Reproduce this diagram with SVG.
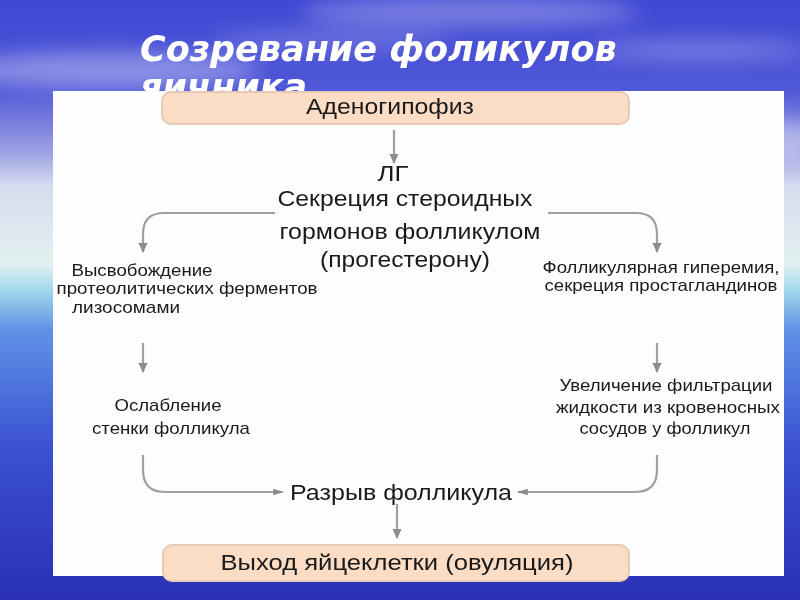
<svg xmlns="http://www.w3.org/2000/svg" width="800" height="600" viewBox="0 0 800 600">
  <defs>
    <linearGradient id="sky" x1="0" y1="0" x2="0" y2="1">
      <stop offset="0" stop-color="#3f47d4"/>
      <stop offset="0.15" stop-color="#5058d8"/>
      <stop offset="0.25" stop-color="#9a9ee2"/>
      <stop offset="0.31" stop-color="#d6dcef"/>
      <stop offset="0.44" stop-color="#e2f0f0"/>
      <stop offset="0.48" stop-color="#a6dcec"/>
      <stop offset="0.55" stop-color="#5f92e6"/>
      <stop offset="0.75" stop-color="#3a50d2"/>
      <stop offset="1" stop-color="#2a30b4"/>
    </linearGradient>
    <filter id="blur" x="-50%" y="-50%" width="200%" height="200%">
      <feGaussianBlur stdDeviation="10"/>
    </filter>
    <marker id="arr" viewBox="0 0 10 10" refX="9" refY="5" markerWidth="10" markerHeight="10" orient="auto" markerUnits="userSpaceOnUse">
      <path d="M0,0.5 L10,5 L0,9.5 z" fill="#8c8c8c"/>
    </marker>
    <marker id="arrh" viewBox="0 0 10 10" refX="9" refY="5" markerWidth="13" markerHeight="11" orient="auto" markerUnits="userSpaceOnUse">
      <path d="M0,2 L10,5 L0,8 z" fill="#8c8c8c"/>
    </marker>
  </defs>
  <style>
    .title { font-family: "DejaVu Sans", "Liberation Sans", sans-serif; font-weight: bold; font-style: italic; font-size: 35px; fill: #ffffff; }
    .big { font-family: "Liberation Sans", Arial, sans-serif; font-size: 22.5px; fill: #1a1a1a; }
    .small { font-family: "Liberation Sans", Arial, sans-serif; font-size: 17px; fill: #1a1a1a; }
    .box { fill: #fbdcc4; stroke: #e6cab6; stroke-width: 2; }
    .conn { fill: none; stroke: #a0a0a0; stroke-width: 2.2; }
  </style>

  <!-- background -->
  <rect x="0" y="0" width="800" height="600" fill="url(#sky)"/>
  <g filter="url(#blur)" fill="#ffffff">
    <ellipse cx="110" cy="70" rx="150" ry="18" opacity="0.35"/>
    <ellipse cx="720" cy="140" rx="120" ry="22" opacity="0.35"/>
    <ellipse cx="470" cy="12" rx="170" ry="14" opacity="0.3"/>
    <ellipse cx="330" cy="40" rx="120" ry="10" opacity="0.2"/>
    <ellipse cx="700" cy="50" rx="110" ry="10" opacity="0.25"/>
  </g>

  <!-- white panel -->
  <rect x="53" y="91" width="731" height="485" fill="#fdfdfd"/>

  <!-- title -->
  <text class="title" x="140" y="61">Созревание фоликулов</text>
  <text class="title" x="140" y="99">яичника</text>

  <!-- connectors -->
  <g id="connectors">
    <line class="conn" x1="394" y1="130" x2="394" y2="163" marker-end="url(#arr)"/>
    <path class="conn" d="M275,213 L164,213 Q143,213 143,234 L143,252" marker-end="url(#arr)"/>
    <path class="conn" d="M548,213 L636,213 Q657,213 657,234 L657,252" marker-end="url(#arr)"/>
    <line class="conn" x1="143" y1="343" x2="143" y2="372" marker-end="url(#arr)"/>
    <line class="conn" x1="657" y1="343" x2="657" y2="372" marker-end="url(#arr)"/>
    <path class="conn" d="M143,455 L143,470 Q143,492 165,492 L283,492" marker-end="url(#arrh)"/>
    <path class="conn" d="M657,455 L657,470 Q657,492 635,492 L518,492" marker-end="url(#arrh)"/>
    <line class="conn" x1="397" y1="504" x2="397" y2="538" marker-end="url(#arr)"/>
  </g>

  <!-- nodes -->
  <g id="adenohypophysis">
    <rect class="box" x="162" y="92" width="467" height="32" rx="9"/>
    <text class="big" x="390" y="114" text-anchor="middle" textLength="168" lengthAdjust="spacingAndGlyphs">Аденогипофиз</text>
  </g>
  <g id="lh">
    <text class="big" x="393" y="181" text-anchor="middle" textLength="31" lengthAdjust="spacingAndGlyphs">ЛГ</text>
    <text class="big" x="405" y="206" text-anchor="middle" textLength="255" lengthAdjust="spacingAndGlyphs">Секреция стероидных</text>
    <text class="big" x="410" y="239" text-anchor="middle" textLength="261" lengthAdjust="spacingAndGlyphs">гормонов фолликулом</text>
    <text class="big" x="405" y="267" text-anchor="middle" textLength="170" lengthAdjust="spacingAndGlyphs">(прогестерону)</text>
  </g>
  <g id="release">
    <text class="small" x="142" y="276" text-anchor="middle" textLength="141" lengthAdjust="spacingAndGlyphs">Высвобождение</text>
    <text class="small" x="187" y="294" text-anchor="middle" textLength="261" lengthAdjust="spacingAndGlyphs">протеолитических ферментов</text>
    <text class="small" x="126" y="313" text-anchor="middle" textLength="108" lengthAdjust="spacingAndGlyphs">лизосомами</text>
  </g>
  <g id="hyperemia">
    <text class="small" x="661" y="273" text-anchor="middle" textLength="237" lengthAdjust="spacingAndGlyphs">Фолликулярная гиперемия,</text>
    <text class="small" x="661" y="291" text-anchor="middle" textLength="233" lengthAdjust="spacingAndGlyphs">секреция простагландинов</text>
  </g>
  <g id="weakening">
    <text class="small" x="168" y="411" text-anchor="middle" textLength="107" lengthAdjust="spacingAndGlyphs">Ослабление</text>
    <text class="small" x="171" y="434" text-anchor="middle" textLength="158" lengthAdjust="spacingAndGlyphs">стенки фолликула</text>
  </g>
  <g id="filtration">
    <text class="small" x="666" y="391" text-anchor="middle" textLength="213" lengthAdjust="spacingAndGlyphs">Увеличение фильтрации</text>
    <text class="small" x="668" y="413" text-anchor="middle" textLength="224" lengthAdjust="spacingAndGlyphs">жидкости из кровеносных</text>
    <text class="small" x="665" y="434" text-anchor="middle" textLength="171" lengthAdjust="spacingAndGlyphs">сосудов у фолликул</text>
  </g>
  <g id="rupture">
    <text class="big" x="401" y="500" text-anchor="middle" textLength="222" lengthAdjust="spacingAndGlyphs">Разрыв фолликула</text>
  </g>
  <g id="ovulation">
    <rect class="box" x="163" y="545" width="466" height="36" rx="9"/>
    <text class="big" x="397" y="570" text-anchor="middle" textLength="353" lengthAdjust="spacingAndGlyphs">Выход яйцеклетки (овуляция)</text>
  </g>
</svg>
